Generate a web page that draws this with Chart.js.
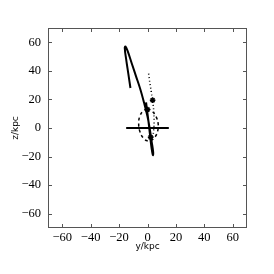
<!DOCTYPE html>
<html>
<head>
<meta charset="utf-8">
<script src="https://cdn.jsdelivr.net/npm/chart.js@4"></script>
<style>
  html, body { margin: 0; padding: 0; background: #fff; }
  #wrap { width: 274px; height: 274px; }
</style>
</head>
<body>
<div id="wrap"><canvas id="orbit"></canvas></div>
<script>
// orbit of the satellite (solid)
const orbitY = [-12, -13.5, -15, -16, -15.5, -14, -11, -8, -5, -2.5, 0, 1.5, 3, 4, 3.8, 3, 2, 1, 0, -1];
const orbitZ = [28, 38, 48, 56, 57, 54, 45, 36, 27, 18, 8, 0, -10, -17, -19, -15, -7, 2, 10, 18];
// disk (solid horizontal)
const diskY = [-15, 15];
const diskZ = [0, 0];
// dashed loop
const loopY = [0, 3, 6, 7.5, 7.2, 5.5, 3, 0, -3, -5.5, -6.2, -5.5, -3, 0];
const loopZ = [13.5, 12, 8, 3, -2, -6, -8.5, -9, -7, -2, 3, 8, 12, 13.5];
// dotted track
const trackY = [0.8, 1.6, 2.4, 3, 3.6, 4.2, 4.6, 4.6, 4.2, 3.6];
const trackZ = [38, 32, 27, 23, 19.5, 14, 8, 2, -3, -7];
// star markers
const starY = [3.6, 0, 2.2];
const starZ = [19.5, 13, -6.5];

const ticks = [-60, -40, -20, 0, 20, 40, 60];

const pts = (xs, ys) => xs.map((x, i) => ({ x: x, y: ys[i] }));

const frame = {
    id: 'frame',
    afterDraw(chart) {
        const c = chart.ctx, a = chart.chartArea;
        const sx = chart.scales.x, sy = chart.scales.y;
        c.save();
        c.strokeStyle = '#555';
        c.lineWidth = 1;
        c.strokeRect(a.left + 0.5, a.top + 0.5, a.right - a.left - 1, a.bottom - a.top - 1);
        c.beginPath();
        ticks.forEach(t => {
            const px = Math.round(sx.getPixelForValue(t)) + 0.5;
            c.moveTo(px, a.bottom); c.lineTo(px, a.bottom - 4);
            c.moveTo(px, a.top); c.lineTo(px, a.top + 4);
            const py = Math.round(sy.getPixelForValue(t)) + 0.5;
            c.moveTo(a.left, py); c.lineTo(a.left + 4, py);
            c.moveTo(a.right, py); c.lineTo(a.right - 4, py);
        });
        c.stroke();
        c.restore();
    }
};

const tickFont = { family: '"Liberation Serif", serif', size: 12.5 };
const titleFont = { family: '"DejaVu Sans", sans-serif', size: 9 };
const minus = v => String(v).replace('-', '\u2212');

new Chart(document.getElementById('orbit').getContext('2d'), {
    type: 'scatter',
    data: {
        datasets: [
            { data: pts(orbitY, orbitZ), showLine: true, borderColor: '#000', borderWidth: 2, pointRadius: 0, tension: 0.4 },
            { data: pts(diskY, diskZ), showLine: true, borderColor: '#000', borderWidth: 2, pointRadius: 0 },
            { data: pts(loopY, loopZ), showLine: true, borderColor: '#000', borderWidth: 1.5, borderDash: [3, 3], pointRadius: 0, tension: 0.4 },
            { data: pts(trackY, trackZ), showLine: true, borderColor: '#000', borderWidth: 1.5, borderDash: [1, 2.5], pointRadius: 0, tension: 0.3 },
            { data: pts(starY, starZ), showLine: false, pointStyle: 'star', pointRadius: 2.8, borderColor: '#000', backgroundColor: '#000', borderWidth: 1.5 }
        ]
    },
    options: {
        responsive: true,
        maintainAspectRatio: false,
        animation: false,
        layout: { padding: { top: 28, right: 27, bottom: 22, left: 10 } },
        plugins: { legend: { display: false }, tooltip: { enabled: false } },
        scales: {
            x: {
                type: 'linear', min: -70, max: 70,
                afterBuildTicks: s => { s.ticks = ticks.map(v => ({ value: v })); },
                afterFit: s => { s.height = 24; },
                grid: { display: false, drawTicks: false },
                border: { display: false },
                ticks: { color: '#000', font: tickFont, padding: 2, maxRotation: 0, callback: minus },
                title: { display: true, text: 'y/kpc', color: '#000', font: titleFont, padding: 0 }
            },
            y: {
                type: 'linear', min: -70, max: 70,
                afterBuildTicks: s => { s.ticks = ticks.map(v => ({ value: v })); },
                afterFit: s => { s.width = 38; },
                grid: { display: false, drawTicks: false },
                border: { display: false },
                ticks: { color: '#000', font: tickFont, padding: 7, callback: minus },
                title: { display: true, text: 'z/kpc', color: '#000', font: titleFont, padding: 0 }
            }
        }
    },
    plugins: [frame]
});
</script>
</body>
</html>
